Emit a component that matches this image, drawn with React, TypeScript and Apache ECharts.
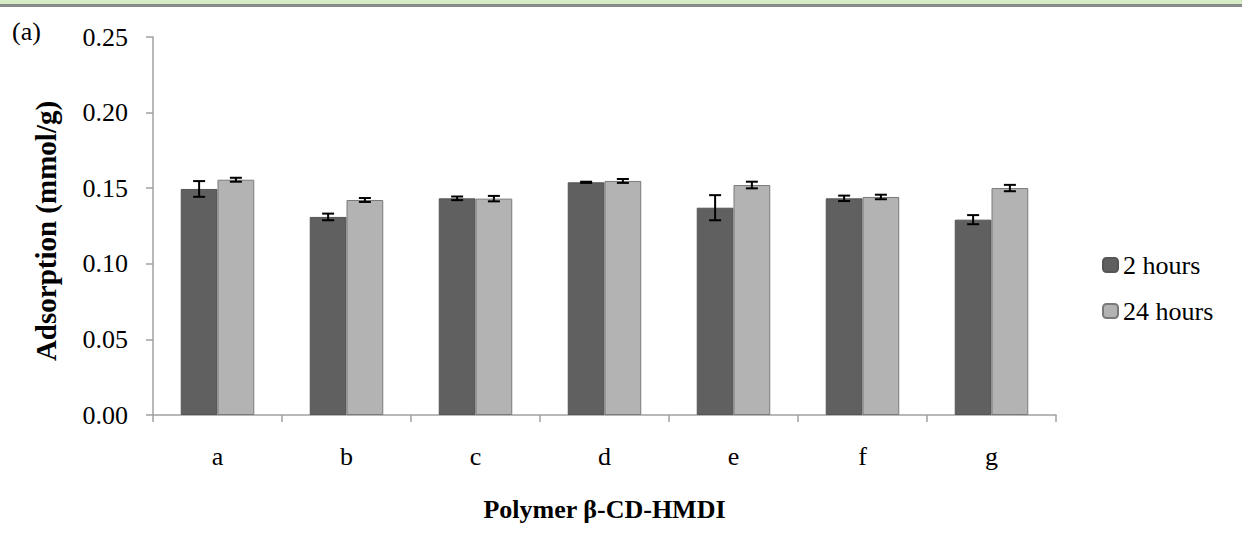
import React, { useEffect, useRef } from "react";
import * as echarts from "echarts";

const categories = ["a", "b", "c", "d", "e", "f", "g"];
const hours2 = [0.1495, 0.131, 0.1433, 0.1539, 0.1371, 0.1433, 0.1292];
const hours24 = [0.1556, 0.1422, 0.1431, 0.1548, 0.1521, 0.1442, 0.1501];
const err2 = [0.0052, 0.0022, 0.0012, 0.0004, 0.0083, 0.0018, 0.003];
const err24 = [0.0013, 0.0013, 0.0018, 0.0013, 0.0022, 0.0015, 0.0021];
const yTicks = [0, 0.05, 0.1, 0.15, 0.2, 0.25];

const CAT_GAP = 0.43;
const FONT = "Liberation Serif";

function errorSeries(values: number[], errs: number[], side: number) {
  return {
    type: "custom",
    silent: true,
    z: 10,
    data: values.map((v, i) => [i, v - errs[i], v + errs[i]]),
    renderItem: (params: any, api: any) => {
      const idx = api.value(0);
      const lo = api.coord([idx, api.value(1)]);
      const hi = api.coord([idx, api.value(2)]);
      const band = api.size([1, 0])[0];
      const barW = (band * (1 - CAT_GAP)) / 2;
      const x = lo[0] + (side * barW) / 2;
      const cap = 6;
      const style = { stroke: "#000", lineWidth: 2 };
      return {
        type: "group",
        children: [
          { type: "line", shape: { x1: x, y1: lo[1], x2: x, y2: hi[1] }, style },
          { type: "line", shape: { x1: x - cap, y1: lo[1], x2: x + cap, y2: lo[1] }, style },
          { type: "line", shape: { x1: x - cap, y1: hi[1], x2: x + cap, y2: hi[1] }, style },
        ],
      };
    },
  };
}

export default function App() {
  const ref = useRef<HTMLDivElement>(null);
  useEffect(() => {
    if (!ref.current) return;
    const chart = echarts.init(ref.current, null, { renderer: "svg" });
    chart.setOption({
      animation: false,
      backgroundColor: "#ffffff",
      textStyle: { fontFamily: FONT },
      grid: { left: 153, right: 186, top: 37, bottom: 140 },
      legend: {
        orient: "vertical",
        left: 1097,
        top: 247,
        itemWidth: 15,
        itemHeight: 14,
        itemGap: 20,
        textStyle: { fontFamily: FONT, fontSize: 26, color: "#000" },
        data: ["2 hours", "24 hours"],
      },
      graphic: [
        { type: "rect", left: 0, top: 0, shape: { width: 1242, height: 4 }, style: { fill: "#d6ecc4" } },
        { type: "rect", left: 0, top: 4, shape: { width: 1242, height: 3 }, style: { fill: "#8a8a8a" } },
        {
          type: "text",
          left: 12,
          top: 18,
          style: { text: "(a)", fontFamily: FONT, fontSize: 26, fill: "#000" },
        },
        {
          type: "text",
          x: 46,
          y: 231,
          rotation: Math.PI / 2,
          style: {
            text: "Adsorption (mmol/g)",
            fontFamily: FONT,
            fontSize: 29,
            fontWeight: "bold",
            fill: "#000",
            align: "center",
            verticalAlign: "middle",
          },
        },
      ],
      xAxis: {
        type: "category",
        data: categories,
        name: "Polymer β-CD-HMDI",
        nameLocation: "middle",
        nameGap: 81,
        nameTextStyle: { fontFamily: FONT, fontSize: 26, fontWeight: "bold", color: "#000" },
        axisLine: { lineStyle: { color: "#a0a0a0", width: 1.5 } },
        axisTick: { show: true, length: 7, lineStyle: { color: "#a0a0a0", width: 1.5 } },
        axisLabel: { fontFamily: FONT, fontSize: 26, color: "#000", margin: 28 },
      },
      yAxis: {
        type: "value",
        min: 0,
        max: 0.25,
        interval: 0.05,
        splitLine: { show: false },
        axisLine: { show: true, lineStyle: { color: "#a0a0a0", width: 1.5 } },
        axisTick: { show: true, length: 7, lineStyle: { color: "#a0a0a0", width: 1.5 } },
        axisLabel: {
          fontFamily: FONT,
          fontSize: 26,
          color: "#000",
          margin: 25,
          formatter: (v: number) => (yTicks.some((t) => Math.abs(t - v) < 1e-9) ? v.toFixed(2) : ""),
        },
      },
      series: [
        {
          name: "2 hours",
          type: "bar",
          data: hours2,
          barGap: "0%",
          barCategoryGap: CAT_GAP * 100 + "%",
          itemStyle: { color: "#606060", borderColor: "#555555", borderWidth: 1 },
        },
        {
          name: "24 hours",
          type: "bar",
          data: hours24,
          barGap: "0%",
          barCategoryGap: CAT_GAP * 100 + "%",
          itemStyle: { color: "#b3b3b3", borderColor: "#7a7a7a", borderWidth: 1 },
        },
        errorSeries(hours2, err2, -1),
        errorSeries(hours24, err24, 1),
      ],
    });
    return () => chart.dispose();
  }, []);
  return (
    <div
      ref={ref}
      style={{ position: "fixed", left: 0, top: 0, width: 1242, height: 555 }}
    />
  );
}
